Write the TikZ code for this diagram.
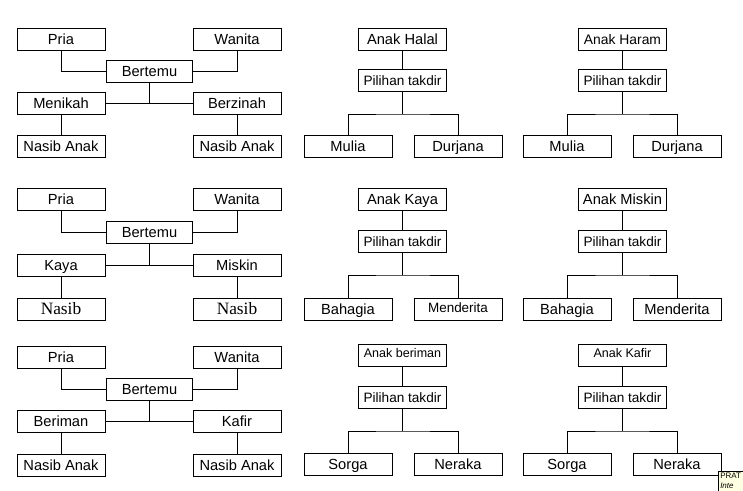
\documentclass[tikz,border=0pt]{standalone}
\usepackage{fontspec}
\setmainfont{Liberation Sans}
\newfontfamily\serifnasib{Liberation Serif}
\definecolor{catatan}{HTML}{FFFFE1}

\begin{document}
\begin{tikzpicture}[x=0.75pt,y=-0.75pt,
  kotak/.style={draw,line width=0.6pt,minimum width=66pt,minimum height=16.5pt,inner sep=0pt,
    text height=7.9pt,text depth=0pt,font=\fontsize{11}{13}\selectfont},
  bertemu/.style={minimum width=65pt},
  pilihan/.style={minimum height=17pt,text height=7.3pt,font=\fontsize{10.2}{12}\selectfont},
  kecil/.style={font=\fontsize{9.4}{11}\selectfont},
  garis/.style={line width=0.6pt}]
\useasboundingbox (0,0) rectangle (743,491);
% baris 1 : Menikah / Berzinah
\node[kotak] (pria1) at (61,39) {Pria};
\node[kotak] (wanita1) at (237,39) {Wanita};
\node[kotak,bertemu] (temu1) at (149.5,71.5) {Bertemu};
\node[kotak] (nikah) at (61,103) {Menikah};
\node[kotak] (zinah) at (237,103) {Berzinah};
\node[kotak] (nasib1a) at (61,146) {Nasib Anak};
\node[kotak] (nasib1b) at (237,146) {Nasib Anak};
\draw[garis] (pria1.south) |- (temu1.west);
\draw[garis] (wanita1.south) |- (temu1.east);
\draw[garis] (nikah.east) -- (zinah.west);
\draw[garis] (temu1.south) -- (temu1.south |- nikah.east);
\draw[garis] (nikah) -- (nasib1a);
\draw[garis] (zinah) -- (nasib1b);

\node[kotak] (halal) at (402.5,39) {Anak Halal};
\node[kotak,pilihan] (pil1a) at (402.5,80.5) {Pilihan takdir};
\coordinate (cabang1a) at (402.5,114);
\node[kotak] (mulia1a) at (348,146) {Mulia};
\node[kotak] (durjana1a) at (458,146) {Durjana};
\draw[garis] (halal) -- (pil1a);
\draw[garis] (pil1a) -- (cabang1a);
\draw[garis] (mulia1a.north) |- (cabang1a) -| (durjana1a.north);

\node[kotak,font=\fontsize{10.4}{12}\selectfont] (haram) at (622.5,39) {Anak Haram};
\node[kotak,pilihan] (pil1b) at (622.5,80.5) {Pilihan takdir};
\coordinate (cabang1b) at (622.5,114);
\node[kotak] (mulia1b) at (567,146) {Mulia};
\node[kotak] (durjana1b) at (677,146) {Durjana};
\draw[garis] (haram) -- (pil1b);
\draw[garis] (pil1b) -- (cabang1b);
\draw[garis] (mulia1b.north) |- (cabang1b) -| (durjana1b.north);

% baris 2 : Kaya / Miskin
\node[kotak] (pria2) at (61,199) {Pria};
\node[kotak] (wanita2) at (237,199) {Wanita};
\node[kotak,bertemu] (temu2) at (149.5,232) {Bertemu};
\node[kotak] (kaya) at (61,265.5) {Kaya};
\node[kotak] (miskin) at (237,265.5) {Miskin};
\node[kotak,font=\serifnasib\fontsize{13}{15}\selectfont] (nasib2a) at (61,309) {Nasib};
\node[kotak,font=\serifnasib\fontsize{13}{15}\selectfont] (nasib2b) at (237,309) {Nasib};
\draw[garis] (pria2.south) |- (temu2.west);
\draw[garis] (wanita2.south) |- (temu2.east);
\draw[garis] (kaya.east) -- (miskin.west);
\draw[garis] (temu2.south) -- (temu2.south |- kaya.east);
\draw[garis] (kaya) -- (nasib2a);
\draw[garis] (miskin) -- (nasib2b);

\node[kotak] (anakkaya) at (402.5,199) {Anak Kaya};
\node[kotak,pilihan] (pil2a) at (402.5,241.5) {Pilihan takdir};
\coordinate (cabang2a) at (402.5,275);
\node[kotak] (bahagia2a) at (348,309) {Bahagia};
\node[kotak,font=\fontsize{10.1}{12}\selectfont] (derita2a) at (458,309) {\raisebox{1.5pt}{Menderita}};
\draw[garis] (anakkaya) -- (pil2a);
\draw[garis] (pil2a) -- (cabang2a);
\draw[garis] (bahagia2a.north) |- (cabang2a) -| (derita2a.north);

\node[kotak] (anakmiskin) at (622.5,199) {Anak Miskin};
\node[kotak,pilihan] (pil2b) at (622.5,241.5) {Pilihan takdir};
\coordinate (cabang2b) at (622.5,275);
\node[kotak] (bahagia2b) at (567,309) {Bahagia};
\node[kotak] (derita2b) at (677,309) {Menderita};
\draw[garis] (anakmiskin) -- (pil2b);
\draw[garis] (pil2b) -- (cabang2b);
\draw[garis] (bahagia2b.north) |- (cabang2b) -| (derita2b.north);

% baris 3 : Beriman / Kafir
\node[kotak] (pria3) at (61,357) {Pria};
\node[kotak] (wanita3) at (237,357) {Wanita};
\node[kotak,bertemu] (temu3) at (149.5,389) {Bertemu};
\node[kotak] (beriman) at (61,421.5) {Beriman};
\node[kotak] (kafir) at (237,421.5) {Kafir};
\node[kotak] (nasib3a) at (61,465) {Nasib Anak};
\node[kotak] (nasib3b) at (237,465) {Nasib Anak};
\draw[garis] (pria3.south) |- (temu3.west);
\draw[garis] (wanita3.south) |- (temu3.east);
\draw[garis] (beriman.east) -- (kafir.west);
\draw[garis] (temu3.south) -- (temu3.south |- beriman.east);
\draw[garis] (beriman) -- (nasib3a);
\draw[garis] (kafir) -- (nasib3b);

\node[kotak,kecil] (anakberiman) at (402.5,355) {\raisebox{2pt}{Anak beriman}};
\node[kotak,pilihan] (pil3a) at (402.5,397.5) {Pilihan takdir};
\coordinate (cabang3a) at (402.5,431);
\node[kotak] (sorga3a) at (348,464) {Sorga};
\node[kotak] (neraka3a) at (458,464) {Neraka};
\draw[garis] (anakberiman) -- (pil3a);
\draw[garis] (pil3a) -- (cabang3a);
\draw[garis] (sorga3a.north) |- (cabang3a) -| (neraka3a.north);

\node[kotak,kecil] (anakkafir) at (622.5,355) {\raisebox{2pt}{Anak Kafir}};
\node[kotak,pilihan] (pil3b) at (622.5,397.5) {Pilihan takdir};
\coordinate (cabang3b) at (622.5,431);
\node[kotak] (sorga3b) at (567,464) {Sorga};
\node[kotak] (neraka3b) at (677,464) {Neraka};
\draw[garis] (anakkafir) -- (pil3b);
\draw[garis] (pil3b) -- (cabang3b);
\draw[garis] (sorga3b.north) |- (cabang3b) -| (neraka3b.north);

% kotak komentar di pojok
\begin{scope}
\clip (0,0) rectangle (743,491);
\fill[catatan,draw=black,line width=0.5pt] (718,471) rectangle (760,500);
\node[anchor=north west,inner sep=0pt,align=left,font=\fontsize{6}{7}\selectfont] (komentar) at (720,473) {PRAT\\\textit{Inte}};
\end{scope}
\end{tikzpicture}
\end{document}
